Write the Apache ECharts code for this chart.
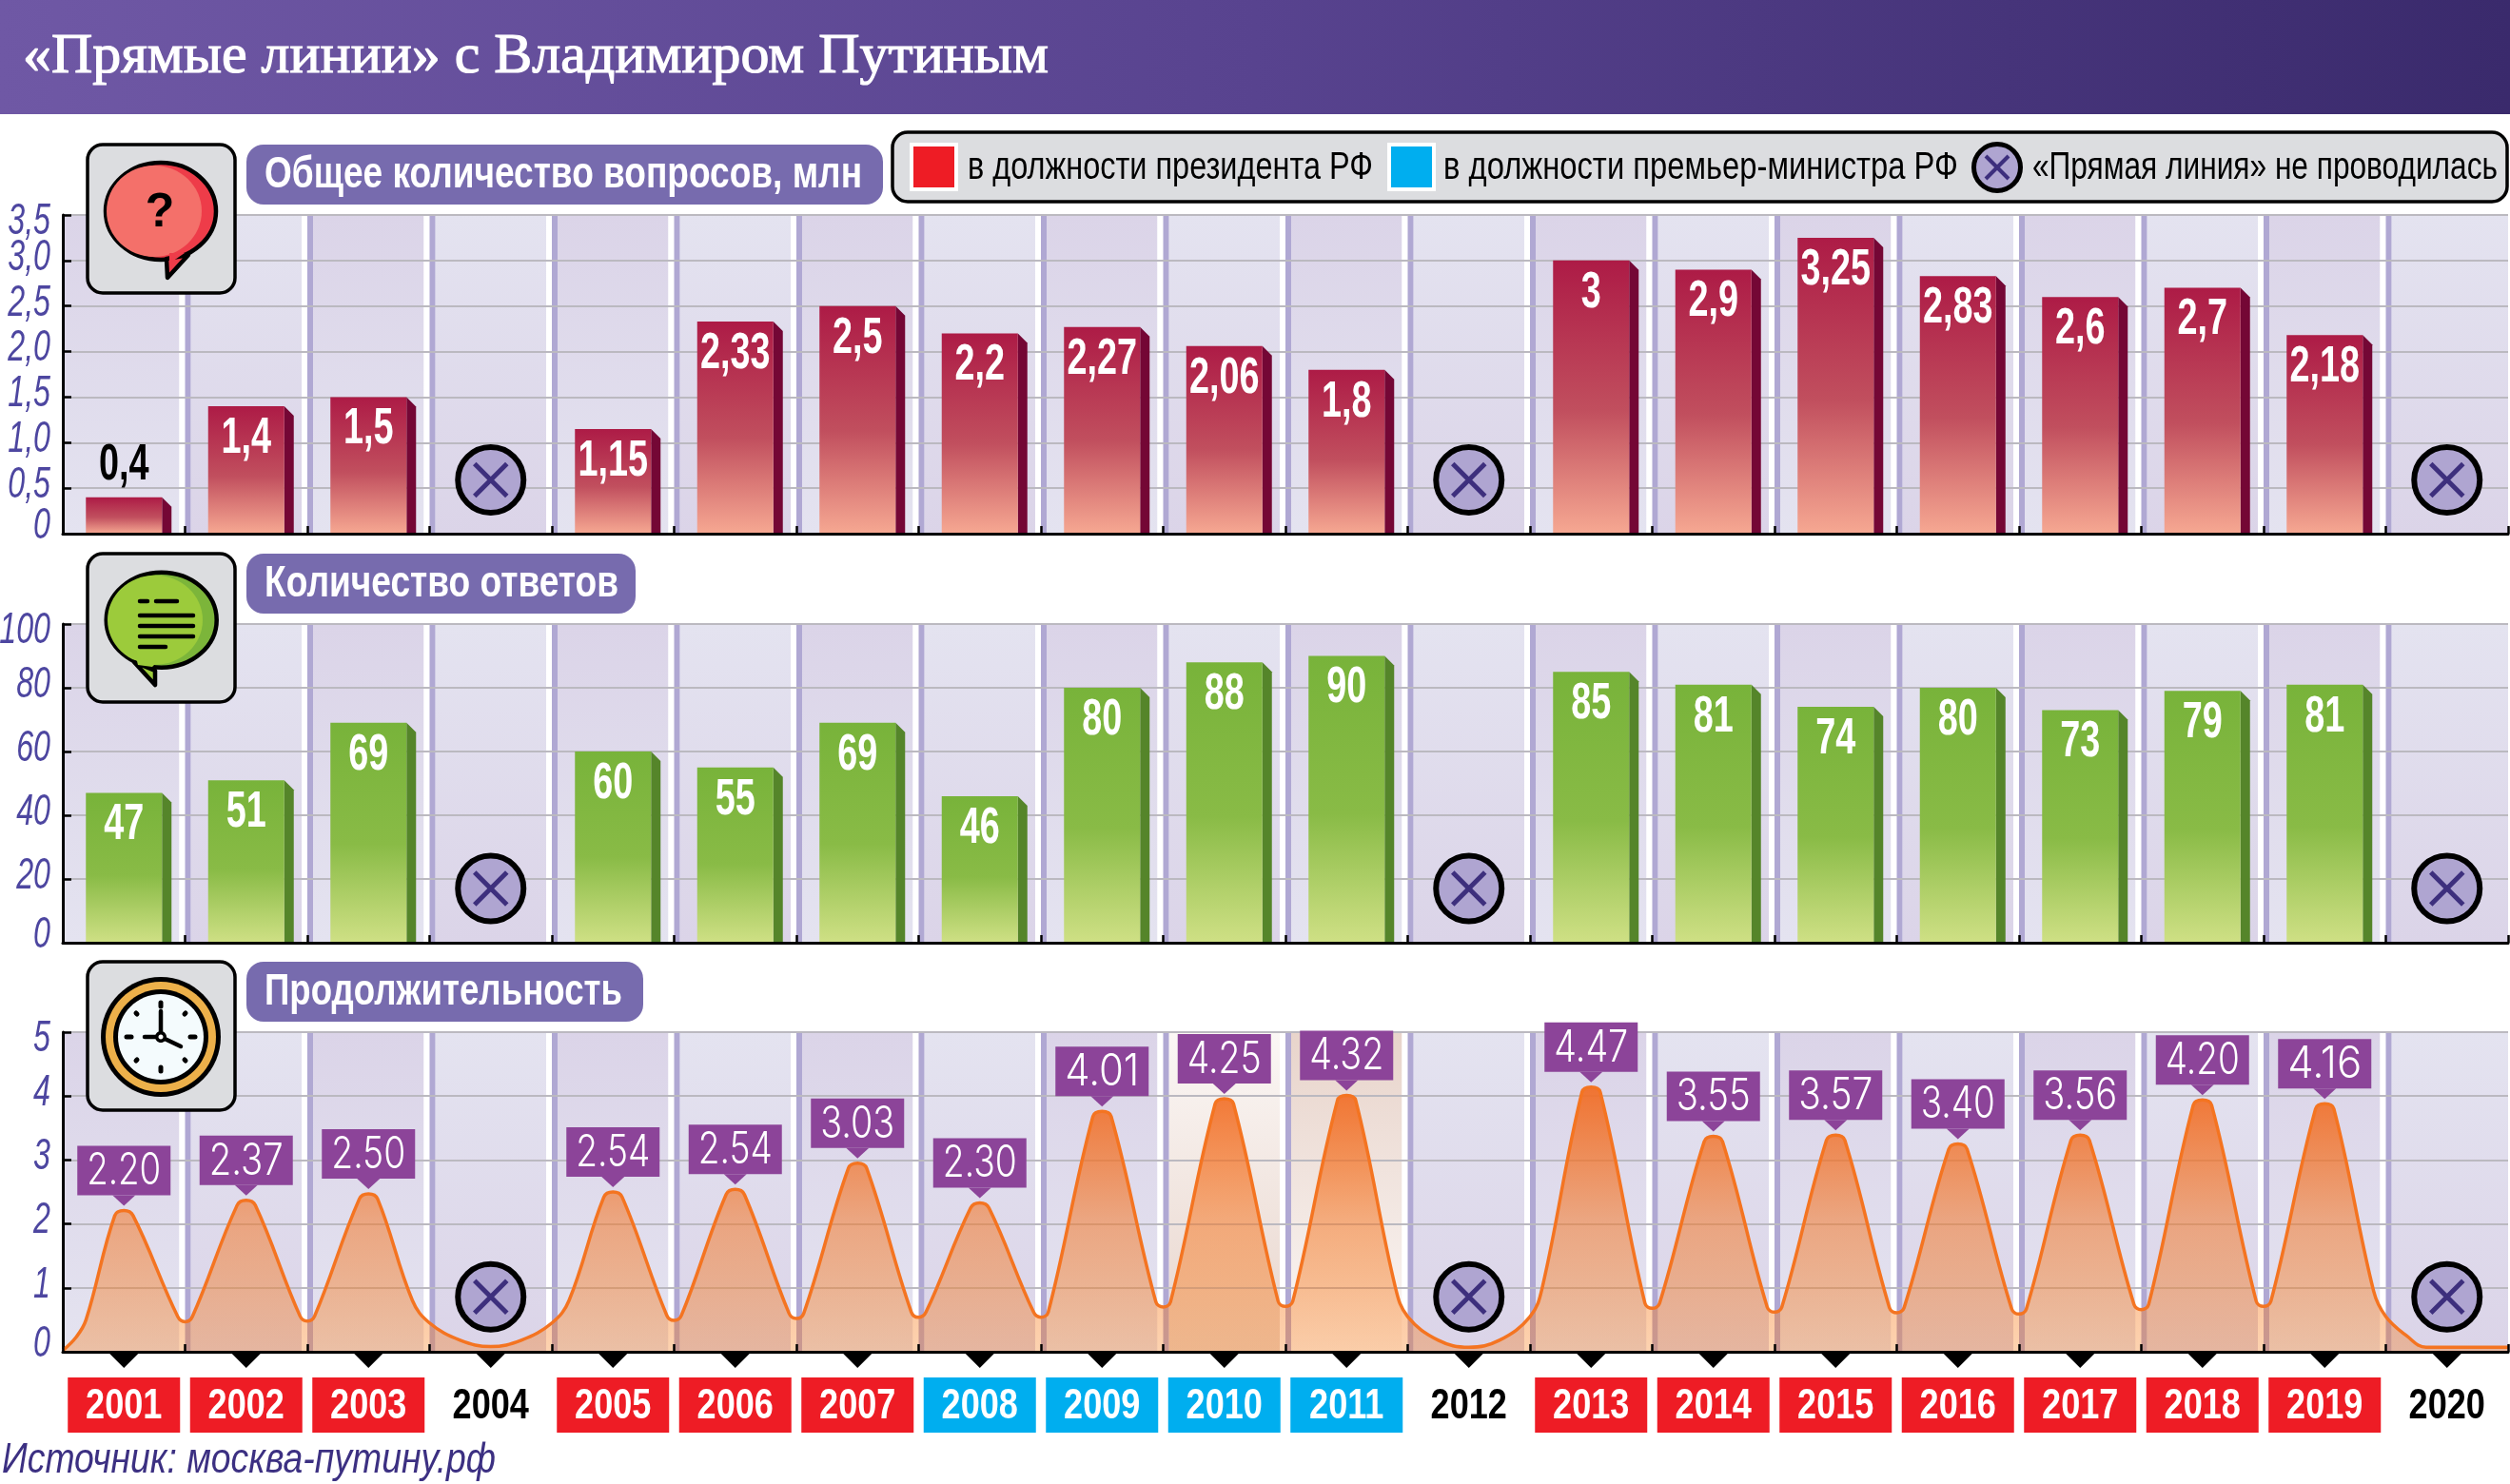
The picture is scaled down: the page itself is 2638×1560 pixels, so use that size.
<!DOCTYPE html>
<html><head><meta charset="utf-8">
<style>html,body{margin:0;padding:0;background:#fff}#c{width:2638px;height:1560px}</style>
<script src="https://cdn.jsdelivr.net/npm/echarts@6/dist/echarts.min.js"></script>
</head><body><div id="c"></div>
<script>
const years = ['2001','2002','2003','2004','2005','2006','2007','2008','2009','2010','2011','2012','2013','2014','2015','2016','2017','2018','2019','2020'];
const yearKinds = ['p','p','p','n','p','p','p','m','m','m','m','n','p','p','p','p','p','p','p','n'];
const questions = [0.4,1.4,1.5,null,1.15,2.33,2.5,2.2,2.27,2.06,1.8,null,3,2.9,3.25,2.83,2.6,2.7,2.18,null];
const answers = [47,51,69,null,60,55,69,46,80,88,90,null,85,81,74,80,73,79,81,null];
const durationLabels = ['2.20','2.37','2.50',null,'2.54','2.54','3.03','2.30','4.01','4.25','4.32',null,'4.47','3.55','3.57','3.40','3.56','4.20','4.16',null];
const durationPeaks = [2.21,2.37,2.47,null,2.5,2.54,2.95,2.33,3.76,3.96,4.01,null,4.14,3.37,3.39,3.25,3.39,3.94,3.88,null];
const durationCurve = [[0,0.02],[0.11,0.23],[0.19,0.5],
 [0.425,2.13],[0.5,2.21],[0.575,2.13],[0.94,0.55],[1,0.47],[1.06,0.55],
 [1.425,2.29],[1.5,2.37],[1.575,2.29],[1.94,0.56],[2,0.48],[2.06,0.56],
 [2.425,2.39],[2.5,2.47],[2.575,2.39],[2.86,0.8],[3,0.45],[3.25,0.18],[3.5,0.08],[3.75,0.18],[4,0.45],[4.14,0.8],
 [4.425,2.42],[4.5,2.5],[4.575,2.42],[4.94,0.57],[5,0.49],[5.06,0.57],
 [5.425,2.46],[5.5,2.54],[5.575,2.46],[5.94,0.6],[6,0.52],[6.06,0.6],
 [6.425,2.87],[6.5,2.95],[6.575,2.87],[6.94,0.62],[7,0.54],[7.06,0.62],
 [7.425,2.25],[7.5,2.33],[7.575,2.25],[7.94,0.62],[8,0.54],[8.06,0.62],
 [8.425,3.68],[8.5,3.76],[8.575,3.68],[8.94,0.78],[9,0.7],[9.06,0.78],
 [9.425,3.88],[9.5,3.96],[9.575,3.88],[9.94,0.79],[10,0.71],[10.06,0.79],
 [10.425,3.93],[10.5,4.01],[10.575,3.93],[10.9,1.0],[11,0.55],[11.25,0.18],[11.5,0.07],[11.75,0.18],[12,0.55],[12.1,1.0],
 [12.425,4.06],[12.5,4.14],[12.575,4.06],[12.94,0.76],[13,0.68],[13.06,0.76],
 [13.425,3.29],[13.5,3.37],[13.575,3.29],[13.94,0.7],[14,0.62],[14.06,0.7],
 [14.425,3.31],[14.5,3.39],[14.575,3.31],[14.94,0.69],[15,0.61],[15.06,0.69],
 [15.425,3.17],[15.5,3.25],[15.575,3.17],[15.94,0.67],[16,0.59],[16.06,0.67],
 [16.425,3.31],[16.5,3.39],[16.575,3.31],[16.94,0.74],[17,0.66],[17.06,0.74],
 [17.425,3.86],[17.5,3.94],[17.575,3.86],[17.94,0.79],[18,0.71],[18.06,0.79],
 [18.425,3.8],[18.5,3.88],[18.575,3.8],[18.9,0.95],[19,0.55],[19.17,0.25],[19.33,0.07],[20,0.07]];
const noLineIdx = [3,11,19];
const noLineMark = [0.59,17,0.86];
const tickLabels1 = ['0','0,5','1,0','1,5','2,0','2,5','3,0','3,5'];
const tickLabels2 = ['0','20','40','60','80','100'];
const tickLabels3 = ['0','1','2','3','4','5'];
const F = '"Liberation Sans"';

const mctx=document.createElement('canvas').getContext('2d');
function fit(t,size,w,target,st,fam){mctx.font=(st||'normal')+' '+(w||'normal')+' '+size+'px '+(fam||F);return target/mctx.measureText(t).width;}

const BG_D='#dbd4e8', BG_L='#e4e3f0';
function bandColors(i,panel){
  if(panel===2&&i===9) return ['#fbf7f5','#e8d5cc'];
  if(panel===2&&i===10) return ['#e8d4cb','#fbf7f5'];
  return i%2===0?[BG_D,BG_L]:[BG_L,BG_D];
}
function vgrad(a,b){return {type:'linear',x:0,y:0,x2:0,y2:1,colorStops:[{offset:0,color:a},{offset:1,color:b}]};}

function bandSeries(p,ymax){
  return {type:'custom',xAxisIndex:p,yAxisIndex:p,z:0,silent:true,data:years.map((y,i)=>[i,0]),
    renderItem(params,api){
      const i=api.value(0),w=api.size([1,0])[0],t=api.coord([i,ymax]),b=api.coord([i,0]);
      const l=t[0]-w/2;
      const x0=i===0?l:l+6, x1=l+w-6;
      const c=bandColors(i,p);
      return {type:'rect',shape:{x:x0,y:t[1],width:(i===19?l+w:x1)-x0,height:b[1]-t[1]},style:{fill:vgrad(c[0],c[1])}};
    }};
}
function dividerSeries(p,ymax){
  return {type:'custom',xAxisIndex:p,yAxisIndex:p,z:1,silent:true,data:years.slice(1).map((y,i)=>[i+1,0]),
    renderItem(params,api){
      const i=api.value(0),w=api.size([1,0])[0],t=api.coord([i,ymax]),b=api.coord([i,0]);
      const l=t[0]-w/2;
      return {type:'group',children:[
        {type:'rect',shape:{x:l-6,y:t[1],width:6,height:b[1]-t[1]},style:{fill:'#ffffff'}},
        {type:'rect',shape:{x:l,y:t[1],width:6,height:b[1]-t[1]},style:{fill:'#b0a8d3'}}
      ]};
    }};
}
function tickLabelSeries(p,labels,step){
  return {type:'custom',xAxisIndex:p,yAxisIndex:p,z:9,silent:true,clip:false,data:labels.map((l,i)=>[0,i*step,i]),
    renderItem(params,api){
      const c=api.coord([0,api.value(1)]),i=api.value(2),off=i===0?-8:(i===labels.length-1?7:-3);
      return {type:'text',x:53,y:c[1]+off,scaleX:0.7,style:{text:labels[i],x:0,y:0,align:'right',verticalAlign:'middle',fill:'#4d46a0',fontFamily:F,fontStyle:'italic',fontSize:46}};
    }};
}
function barSeries(p,vals,top,mid,bot,sideCol,fmt){
  return [
   {type:'custom',xAxisIndex:p,yAxisIndex:p,z:3,silent:true,data:vals.map((v,i)=>[i,v]).filter(d=>d[1]!==null),
    renderItem(params,api){
      const c=api.coord([api.value(0),api.value(1)]),b=api.coord([api.value(0),0]);
      return {type:'polygon',shape:{points:[[c[0]+40,c[1]],[c[0]+50,c[1]+10],[c[0]+50,b[1]],[c[0]+40,b[1]]]},style:{fill:sideCol}};
    }},
   {type:'bar',xAxisIndex:p,yAxisIndex:p,z:4,barWidth:80,data:vals,silent:true,
    itemStyle:{color:{type:'linear',x:0,y:0,x2:0,y2:1,colorStops:[{offset:0,color:top},{offset:0.55,color:mid},{offset:1,color:bot}]}}},
   {type:'custom',xAxisIndex:p,yAxisIndex:p,z:6,silent:true,data:vals.map((v,i)=>[i,v]).filter(d=>d[1]!==null),
    renderItem(params,api){
      const v=api.value(1),c=api.coord([api.value(0),v]);
      const small=(p===0&&v<0.5);
      return {type:'text',x:c[0],y:small?c[1]-34:c[1]+34,scaleX:0.7,
        style:{text:fmt(v),x:0,y:0,align:'center',verticalAlign:'middle',fill:small?'#000':'#fff',
          fontFamily:F,fontWeight:'bold',fontSize:54}};
    }}
  ];
}
function markSeries(p,val){
  return {type:'custom',xAxisIndex:p,yAxisIndex:p,z:7,silent:true,data:noLineIdx.map(i=>[i,val]),
    renderItem(params,api){
      const c=api.coord([api.value(0),api.value(1)]);
      return {type:'group',x:c[0],y:c[1],children:crossEls(37.5,6,17)};
    }};
}
function crossEls(r,bw,d){
  return [
    {type:'circle',shape:{cx:0,cy:0,r:r-bw/2},style:{fill:'#afa5d1',stroke:'#000',lineWidth:bw}},
    {type:'line',shape:{x1:-d,y1:-d,x2:d,y2:d},style:{stroke:'#3d2f7d',lineWidth:bw-1}},
    {type:'line',shape:{x1:-d,y1:d,x2:d,y2:-d},style:{stroke:'#3d2f7d',lineWidth:bw-1}}
  ];
}
const xAxisBase=(p)=>({type:'category',gridIndex:p,data:years,z:5,
  axisLine:{show:true,lineStyle:{color:'#000',width:3}},
  axisTick:{show:true,inside:true,length:8,lineStyle:{color:'#000',width:2.5}},
  splitLine:{show:false},axisLabel:{show:false}
});
const yAxisBase=(p,max,step)=>({type:'value',gridIndex:p,min:0,max:max,interval:step,z:2,
  axisLine:{show:true,lineStyle:{color:'#000',width:3}},
  axisTick:{show:true,inside:true,length:9,lineStyle:{color:'#000',width:2.5}},
  splitLine:{show:true,lineStyle:{color:'#bbb9c0',width:2}},
  axisLabel:{show:false}
});

// decoration helpers
const Z=50;
function txt(t,x,y,size,target,o){o=o||{};return {type:'text',x:x,y:y,z:Z+2,scaleX:target?fit(t,size,o.w,target,o.st,o.font):1,silent:true,
  style:{text:t,x:0,y:0,align:'left',verticalAlign:'middle',fill:o.fill||'#fff',fontFamily:o.font||F,fontWeight:o.w||'normal',fontStyle:o.st||'normal',fontSize:size,stroke:o.stroke||null,lineWidth:o.lw||0}};}
function box(x,y,w,h,r,fill,stroke,lw,z){const s={fill:fill};if(stroke){s.stroke=stroke;s.lineWidth=lw;}
  return {type:'rect',z:z||Z,silent:true,shape:{x,y,width:w,height:h,r:r},style:s};}
function ell(cx,cy,rx,ry,fill,stroke,lw){const s={fill};if(stroke){s.stroke=stroke;s.lineWidth=lw;}
  return {type:'ellipse',z:Z+1,silent:true,shape:{cx,cy,rx,ry},style:s};}
function ln(x1,y1,x2,y2,c,lw){return {type:'line',z:Z+1,silent:true,shape:{x1,y1,x2,y2},style:{stroke:c,lineWidth:lw,lineCap:'round'}};}
function poly(pts,fill,stroke,lw){const s={fill};if(stroke){s.stroke=stroke;s.lineWidth=lw;s.lineJoin='round';}
  return {type:'polygon',z:Z+1,silent:true,shape:{points:pts},style:s};}

const gfx=[];
gfx.push({type:'rect',z:Z,silent:true,shape:{x:0,y:0,width:2638,height:120},
  style:{fill:{type:'linear',x:0,y:0,x2:1,y2:0,colorStops:[{offset:0,color:'#6f58a5'},{offset:0.5,color:'#58438f'},{offset:1,color:'#3a2a6c'}]}}});
gfx.push(txt('«Прямые линии» с Владимиром Путиным',24,60,60,1078,{font:'"Liberation Serif"',stroke:'#fff',lw:1.2}));
// section labels
[[152,669,'Общее количество вопросов, млн',628],[582,409,'Количество ответов',372],[1011,417,'Продолжительность',376]].forEach(a=>{
  gfx.push(box(259,a[0],a[1],63,18,'#776bae'));
  gfx.push(txt(a[2],278,a[0]+32,46,a[3],{w:'bold'}));
});
// icon boxes
[152,582,1011].forEach(y=>gfx.push(box(92,y,155,156,16,'#dcdde0','#000',3.5)));
// question icon
gfx.push(ell(169,222,58,51,'#ee3c49','#000',4.5));
gfx.push(ell(162,222,50,48,'#f4706a'));
gfx.push(poly([[175,272],[176,292],[198,268]],'#ee3c49','#000',4.5));
gfx.push(poly([[178,266],[178,277],[194,266]],'#ee3c49'));
gfx.push({type:'text',x:168,y:224,z:Z+2,silent:true,style:{text:'?',x:0,y:0,align:'center',verticalAlign:'middle',fill:'#000',fontFamily:F,fontWeight:'bold',fontSize:50}});
// answer icon
gfx.push(ell(169.7,651.7,58,50,'#7cb53a','#000',4.5));
gfx.push(ell(163,651.7,50,47,'#9ccb3b'));
gfx.push(poly([[141,696],[163,720],[163,705]],'#9ccb3b','#000',4.5));
gfx.push(poly([[143,691],[145,699],[160,701],[165,696]],'#9ccb3b'));
[[147,155,632],[164,186,632],[147,203,647],[147,203,658],[147,203,669],[147,174,680]].forEach(a=>gfx.push(ln(a[0],a[2],a[1],a[2],'#000',4.5)));
// clock icon
gfx.push(ell(169,1090,63,63,'#000'));
gfx.push(ell(169,1090,58,58,'#ecb04a'));
gfx.push(ell(169,1090,50,50,'#000'));
gfx.push(ell(169,1090,45,45,'#f4fbfd'));
[[0,-36,0,-32],[0,32,0,36],[-36,0,-31,0],[31,0,36,0],[-26,-25,-25,-24],[26,-25,25,-24],[-26,25,-25,24],[26,25,25,24]].forEach(a=>gfx.push(ln(169+a[0],1090+a[1],169+a[2],1090+a[3],'#000',5)));
gfx.push(ln(169,1090,169,1063,'#000',4.5));
gfx.push(ln(169,1090,190,1100,'#000',4.5));
gfx.push(ln(169,1090,152,1090,'#000',4.5));
gfx.push(ell(169,1090,6,6,'#000'));
gfx.push(ell(169,1090,2.5,2.5,'#fff'));
// legend
gfx.push(box(938,139,1697,73,16,'#dcdde0','#000',3.5));
gfx.push(box(956,150,51,51,0,'#fff'));
gfx.push(box(960,154,43,43,0,'#ee1c25',null,0,Z+1));
gfx.push(txt('в должности президента РФ',1017,177,41,426,{fill:'#000'}));
gfx.push(box(1458,150,51,51,0,'#fff'));
gfx.push(box(1462,154,43,43,0,'#00aeef',null,0,Z+1));
gfx.push(txt('в должности премьер-министра РФ',1517,177,41,541,{fill:'#000'}));
crossEls(27,5,12).forEach(e=>{e.x=2099;e.y=176;e.z=Z+1;e.silent=true;gfx.push(e);});
gfx.push(txt('«Прямая линия» не проводилась',2136,177,41,489,{fill:'#000'}));
gfx.push(txt('Источник: москва-путину.рф',2,1536,44,519,{fill:'#3c3082',st:'italic'}));

const grids=[226,656,1085].map((top,i)=>({left:66,width:2570,top:top,height:i===2?336:335,outerBoundsMode:'none',containLabel:false}));
const commaFmt=v=>String(v).replace('.',',');
const yearColor={p:'#ee1c25',m:'#00aeef'};
const option={
  animation:false,backgroundColor:'#fff',grid:grids,
  xAxis:[xAxisBase(0),xAxisBase(1),xAxisBase(2),{type:'value',gridIndex:2,min:0,max:20,show:false}],
  yAxis:[yAxisBase(0,3.5,0.5),yAxisBase(1,100,20),yAxisBase(2,5,1)],
  graphic:{elements:gfx},
  series:[
    bandSeries(0,3.5),bandSeries(1,100),bandSeries(2,5),
    dividerSeries(0,3.5),dividerSeries(1,100),dividerSeries(2,5),
    tickLabelSeries(0,tickLabels1,0.5),tickLabelSeries(1,tickLabels2,20),tickLabelSeries(2,tickLabels3,1),
    ...barSeries(0,questions,'#ad1b46','#c14f5e','#f6a892','#740735',commaFmt),
    ...barSeries(1,answers,'#78b33a','#89bb46','#cfe085','#55852a',v=>String(v)),
    {type:'line',xAxisIndex:3,yAxisIndex:2,z:3,silent:true,data:durationCurve,smooth:0.4,symbol:'none',
      lineStyle:{color:'#f47421',width:3.5},
      areaStyle:{opacity:1,color:{type:'linear',x:0,y:0,x2:0,y2:1,colorStops:[
        {offset:0,color:'rgba(241,110,40,0.95)'},{offset:0.5,color:'rgba(245,115,30,0.52)'},{offset:1,color:'rgba(249,120,15,0.33)'}]}}},
    {type:'custom',xAxisIndex:2,yAxisIndex:2,z:6,silent:true,clip:false,data:years.map((y,i)=>[i,0]),
      renderItem(params,api){
        const i=api.value(0),c=api.coord([i,0]),k=yearKinds[i];
        const kids=[{type:'polygon',shape:{points:[[c[0]-16,c[1]+1],[c[0]+16,c[1]+1],[c[0],c[1]+17]]},style:{fill:'#000'}}];
        if(yearColor[k]) kids.push({type:'rect',shape:{x:c[0]-59,y:c[1]+27,width:118,height:58},style:{fill:yearColor[k]}});
        kids.push({type:'text',x:c[0],y:c[1]+58,scaleX:0.82,style:{text:years[i],x:0,y:0,align:'center',verticalAlign:'middle',fill:yearColor[k]?'#fff':'#000',fontFamily:F,fontWeight:'bold',fontSize:44}});
        return {type:'group',children:kids};
      }},
    {type:'custom',xAxisIndex:2,yAxisIndex:2,z:8,silent:true,clip:false,
      data:durationPeaks.map((p,i)=>[i,p]).filter(d=>d[1]!==null),
      renderItem(params,api){
        const i=api.value(0),c=api.coord([i,api.value(1)]);
        const tip=c[1]-5,b=tip-11,t=b-52;
        return {type:'group',children:[
          {type:'rect',shape:{x:c[0]-49,y:t,width:98,height:52},style:{fill:'#8c4499'}},
          {type:'polygon',shape:{points:[[c[0]-12,b],[c[0]+12,b],[c[0],tip]]},style:{fill:'#8c4499'}},
          {type:'text',x:c[0],y:t+27,scaleX:fit(durationLabels[i],46,'300',78,'normal','Inter'),style:{text:durationLabels[i],x:0,y:0,align:'center',verticalAlign:'middle',fill:'#fff',fontFamily:'Inter',fontWeight:'300',fontSize:46}}
        ]};
      }},
    markSeries(0,noLineMark[0]),markSeries(1,noLineMark[1]),markSeries(2,noLineMark[2])
  ]
};
const chart=echarts.init(document.getElementById('c'),null,{renderer:'canvas',width:2638,height:1560});
chart.setOption(option);
</script></body></html>
